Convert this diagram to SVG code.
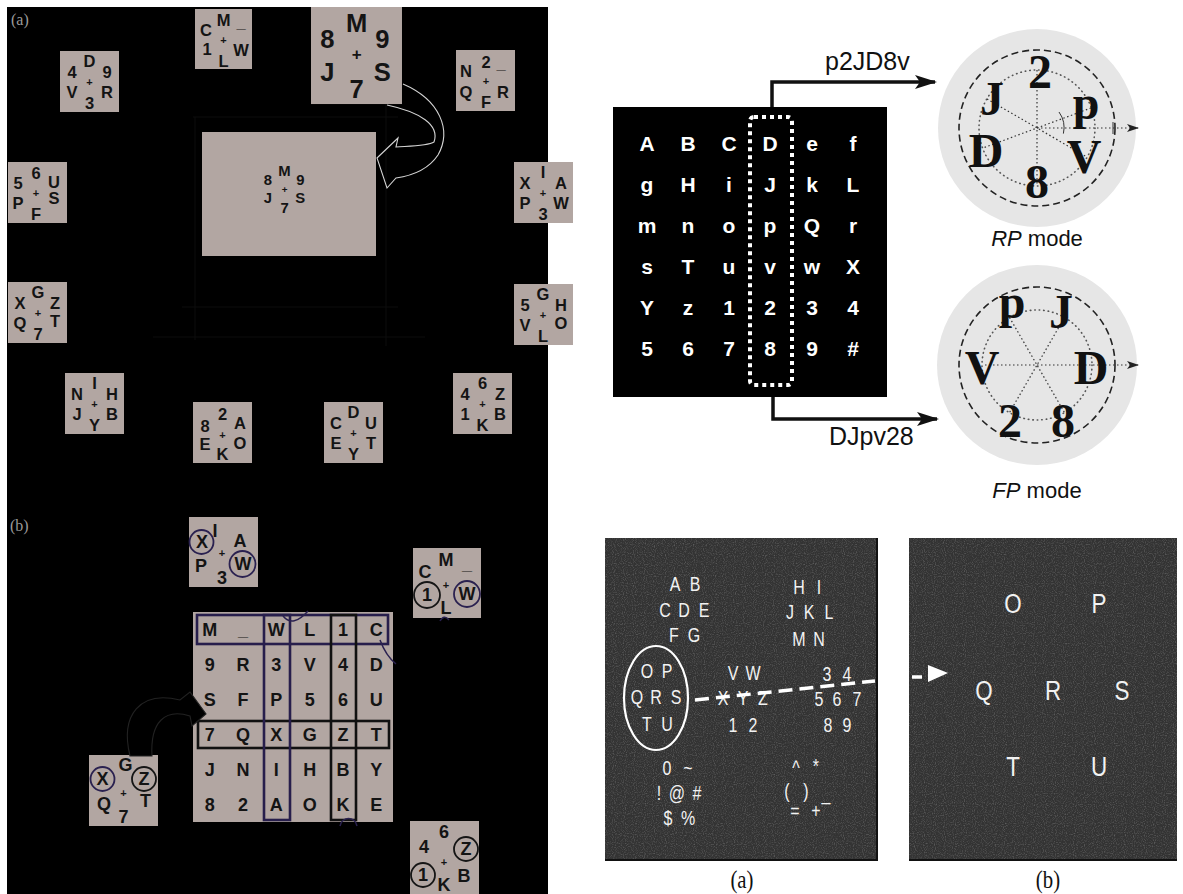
<svg xmlns="http://www.w3.org/2000/svg" width="1183" height="894" viewBox="0 0 1183 894">
<style>
.tile{fill:#b2a6a2}
.tc{font-family:'Liberation Sans',Arial,sans-serif;font-weight:bold;font-size:16.5px;fill:#141414;text-anchor:middle}
.p{font-size:11px}
.bc{font-family:'Liberation Sans',Arial,sans-serif;font-weight:bold;font-size:18px;fill:#141414;text-anchor:middle}
.ring{fill:none;stroke:#2a2150;stroke-width:1.8}
.ringk{fill:none;stroke:#151515;stroke-width:1.8}
.hl{fill:none;stroke:#271e4c;stroke-width:2.6}
.hlk{fill:none;stroke:#111;stroke-width:2.6}
.plab{font-family:'Liberation Serif',serif;font-size:16px;fill:#9a9a9a}
.wg{font-family:'Liberation Sans',Arial,sans-serif;font-weight:bold;font-size:21px;fill:#fff;text-anchor:middle}
.ser{font-family:'Liberation Serif','Times New Roman',serif;font-weight:bold;font-size:48px;fill:#111;text-anchor:middle}
.cap{font-family:'Liberation Sans',Arial,sans-serif;font-size:25px;fill:#111}
.mode{font-family:'Liberation Sans',Arial,sans-serif;font-size:22px;fill:#111;text-anchor:middle}
.nz{font-family:'Liberation Sans',Arial,sans-serif;font-size:20px;fill:#f2f2f2;text-anchor:middle}
.nzb{font-size:28px}
.sub{font-family:'Liberation Serif',serif;font-size:26px;fill:#111;text-anchor:middle}
.spoke{stroke:#333;stroke-width:1.2;stroke-dasharray:1.5 2.5;fill:none}
.dashc{fill:none;stroke:#222;stroke-width:1.6;stroke-dasharray:7 4}
.dotc{fill:none;stroke:#555;stroke-width:1.6;stroke-dasharray:0.5 4;stroke-linecap:round}
.faint{stroke:#0d0d0d;stroke-width:1;fill:none}
.dk{fill:none;stroke:#2a2150;stroke-width:1.5}
</style>
<defs>
<marker id="ah" viewBox="0 0 22 14" refX="20" refY="7" markerWidth="22" markerHeight="14" markerUnits="userSpaceOnUse" orient="auto"><path d="M0,0 L22,7 L0,14 L5,7 Z" fill="#111"/></marker>
<marker id="ahs" viewBox="0 0 12 8" refX="11" refY="4" markerWidth="12" markerHeight="8" markerUnits="userSpaceOnUse" orient="auto"><path d="M0,0 L12,4 L0,8 L3,4 Z" fill="#222"/></marker>
<filter id="grain" x="0" y="0" width="1" height="1">
<feTurbulence type="fractalNoise" baseFrequency="0.9" numOctaves="1" seed="4"/>
<feColorMatrix type="matrix" values="0 0 0 0 1  0 0 0 0 1  0 0 0 0 1  1.6 0 0 0 -0.75"/>
</filter>
</defs>

<!-- left black panel -->
<rect id="left-panel" x="7" y="7" width="541" height="887" fill="#000"/>
<g id="faint-frame">
<path class="faint" d="M193 117 H398 M386 104 V346 M195 117 V340 M182 307 H398 M153 337 H425"/>
</g>
<text class="plab" x="11" y="25">(a)</text>
<text class="plab" x="10" y="531">(b)</text>

<!-- (a) tiles -->
<g id="a-tile-CM" class="tc" transform="translate(195,9)"><rect class="tile" width="57" height="60"/><text x="28.5" y="17">M</text><text x="11" y="27">C</text><text x="46" y="19">_</text><text class="p" x="28.5" y="35">+</text><text x="12" y="46">1</text><text x="46" y="47">W</text><text x="28.5" y="58">L</text></g>
<g id="a-tile-4D9" class="tc" transform="translate(60,51)"><rect class="tile" width="59" height="61"/><text x="29.5" y="16">D</text><text x="12" y="27">4</text><text x="47" y="27">9</text><text class="p" x="29.5" y="35">+</text><text x="12" y="47">V</text><text x="47" y="47">R</text><text x="29.5" y="58">3</text></g>
<g id="a-tile-8M9" class="tc" transform="translate(311,7) scale(1.55)"><rect class="tile" width="58.7" height="62.6"/><text x="29.5" y="16">M</text><text x="10.5" y="26.5">8</text><text x="46" y="26.5">9</text><text class="p" x="29.5" y="34">+</text><text x="10.5" y="48">J</text><text x="46" y="48">S</text><text x="29.5" y="58.5">7</text></g>
<g id="a-tile-N2" class="tc" transform="translate(456,50)"><rect class="tile" width="59" height="61"/><text x="30" y="18">2</text><text x="10" y="27">N</text><text x="45" y="19">_</text><text class="p" x="30" y="35">+</text><text x="10" y="48">Q</text><text x="47" y="48">R</text><text x="30" y="58">F</text></g>
<g id="a-tile-56U" class="tc" transform="translate(8,162)"><rect class="tile" width="59" height="61"/><text x="28" y="17">6</text><text x="10" y="27">5</text><text x="46" y="26">U</text><text class="p" x="28" y="35">+</text><text x="10" y="47">P</text><text x="46" y="42">S</text><text x="28" y="58">F</text></g>
<g id="a-tile-XIA" class="tc" transform="translate(514,162)"><rect class="tile" width="59" height="61"/><text x="29" y="16">I</text><text x="11" y="27">X</text><text x="47" y="27">A</text><text class="p" x="29" y="35">+</text><text x="11" y="47">P</text><text x="47" y="47">W</text><text x="29" y="58">3</text></g>
<g id="a-tile-XGZ" class="tc" transform="translate(8,282)"><rect class="tile" width="59" height="61"/><text x="30" y="16">G</text><text x="12" y="27">X</text><text x="47" y="27">Z</text><text class="p" x="30" y="35">+</text><text x="12" y="47">Q</text><text x="47" y="45">T</text><text x="30" y="58">7</text></g>
<g id="a-tile-5GH" class="tc" transform="translate(514,284)"><rect class="tile" width="59" height="61"/><text x="29" y="16">G</text><text x="11" y="27">5</text><text x="47" y="27">H</text><text class="p" x="29" y="35">+</text><text x="11" y="47">V</text><text x="47" y="45">O</text><text x="29" y="58">L</text></g>
<g id="a-tile-NIH" class="tc" transform="translate(65,373)"><rect class="tile" width="59" height="61"/><text x="29.5" y="16">I</text><text x="12" y="27">N</text><text x="47" y="27">H</text><text class="p" x="29.5" y="35">+</text><text x="12" y="47">J</text><text x="47" y="47">B</text><text x="29.5" y="58">Y</text></g>
<g id="a-tile-46Z" class="tc" transform="translate(453,373)"><rect class="tile" width="59" height="61"/><text x="29.5" y="16">6</text><text x="12" y="27">4</text><text x="47" y="27">Z</text><text class="p" x="29.5" y="35">+</text><text x="12" y="47">1</text><text x="47" y="47">B</text><text x="29.5" y="58">K</text></g>
<g id="a-tile-82A" class="tc" transform="translate(193,402)"><rect class="tile" width="59" height="61"/><text x="29.5" y="18">2</text><text x="12" y="30">8</text><text x="47" y="27">A</text><text class="p" x="29.5" y="37">+</text><text x="12" y="48">E</text><text x="47" y="47">O</text><text x="29.5" y="58">K</text></g>
<g id="a-tile-CDU" class="tc" transform="translate(324,402)"><rect class="tile" width="59" height="61"/><text x="29.5" y="16">D</text><text x="12" y="27">C</text><text x="47" y="27">U</text><text class="p" x="29.5" y="35">+</text><text x="12" y="47">E</text><text x="47" y="47">T</text><text x="29.5" y="58">Y</text></g>
<g id="a-center">
<rect class="tile" x="202" y="132" width="174" height="124"/>
<g class="tc" transform="translate(258,162) scale(0.9)"><text x="29.5" y="16">M</text><text x="11" y="26">8</text><text x="47" y="26">9</text><text class="p" x="29.5" y="34">+</text><text x="11" y="46">J</text><text x="47" y="46">S</text><text x="29.5" y="57">7</text></g>
</g>

<!-- (b) grid -->
<g id="b-grid">
<rect class="tile" x="193" y="612" width="200" height="210"/>
<g class="bc">
<text x="209.7" y="636">M</text><text x="243" y="636">_</text><text x="276.3" y="636">W</text><text x="309.7" y="636">L</text><text x="343" y="636">1</text><text x="376.3" y="636">C</text>
<text x="209.7" y="671">9</text><text x="243" y="671">R</text><text x="276.3" y="671">3</text><text x="309.7" y="671">V</text><text x="343" y="671">4</text><text x="376.3" y="671">D</text>
<text x="209.7" y="706">S</text><text x="243" y="706">F</text><text x="276.3" y="706">P</text><text x="309.7" y="706">5</text><text x="343" y="706">6</text><text x="376.3" y="706">U</text>
<text x="209.7" y="741">7</text><text x="243" y="741">Q</text><text x="276.3" y="741">X</text><text x="309.7" y="741">G</text><text x="343" y="741">Z</text><text x="376.3" y="741">T</text>
<text x="209.7" y="776">J</text><text x="243" y="776">N</text><text x="276.3" y="776">I</text><text x="309.7" y="776">H</text><text x="343" y="776">B</text><text x="376.3" y="776">Y</text>
<text x="209.7" y="811">8</text><text x="243" y="811">2</text><text x="276.3" y="811">A</text><text x="309.7" y="811">O</text><text x="343" y="811">K</text><text x="376.3" y="811">E</text>
</g>
<rect class="hl" x="197" y="615" width="191" height="29"/>
<rect class="hlk" x="198" y="721" width="191" height="27"/>
<rect class="hl" x="264" y="615" width="26" height="205"/>
<rect class="hlk" x="331" y="615" width="25" height="205"/>
</g>

<!-- (b) tiles -->
<g id="b-tile-XIA" class="bc">
<rect class="tile" x="189" y="517" width="69" height="70"/>
<text x="215" y="537">I</text><text x="202" y="548">X</text><circle class="ring" cx="201.5" cy="542" r="12"/><text x="240" y="547">A</text><text class="p" x="222" y="557">+</text><text x="201" y="572">P</text><text x="243" y="570">W</text><circle class="ring" cx="242.5" cy="564" r="13"/><text x="222" y="584">3</text>
</g>
<g id="b-tile-CM" class="bc">
<rect class="tile" x="413" y="548" width="68" height="70"/>
<text x="446" y="566">M</text><text x="425" y="578">C</text><text x="467" y="570">_</text><text class="p" x="446" y="589">+</text><text x="427" y="601">1</text><circle class="ringk" cx="427" cy="595" r="13"/><text x="467" y="600">W</text><circle class="ring" cx="467" cy="594" r="13"/><text x="446" y="614">L</text>
</g>
<g id="b-tile-XGZ" class="bc">
<rect class="tile" x="89" y="755" width="69" height="71"/>
<text x="125.5" y="771">G</text><text x="102.5" y="785">X</text><circle class="ring" cx="102.5" cy="779" r="12"/><text x="144" y="785">Z</text><circle class="ringk" cx="144" cy="779" r="12"/><text class="p" x="123.5" y="797">+</text><text x="104" y="810">Q</text><text x="145.5" y="807">T</text><text x="123.5" y="823">7</text>
</g>
<g id="b-tile-46Z" class="bc">
<rect class="tile" x="410" y="821" width="69" height="73"/>
<text x="444" y="838">6</text><text x="424" y="853">4</text><text x="466" y="855">Z</text><circle class="ringk" cx="466" cy="849" r="12"/><text class="p" x="444" y="866">+</text><text x="423" y="881">1</text><circle class="ringk" cx="423" cy="875" r="12"/><text x="464" y="882">B</text><text x="444" y="891">K</text>
</g>

<!-- top right: character matrix -->
<g id="matrix">
<rect x="613" y="107" width="274" height="290" fill="#000"/>
<g class="wg">
<text x="647" y="151">A</text><text x="688" y="151">B</text><text x="729" y="151">C</text><text x="770" y="151">D</text><text x="812" y="151">e</text><text x="853" y="151">f</text>
<text x="647" y="192">g</text><text x="688" y="192">H</text><text x="729" y="192">i</text><text x="770" y="192">J</text><text x="812" y="192">k</text><text x="853" y="192">L</text>
<text x="647" y="233">m</text><text x="688" y="233">n</text><text x="729" y="233">o</text><text x="770" y="233">p</text><text x="812" y="233">Q</text><text x="853" y="233">r</text>
<text x="647" y="274">s</text><text x="688" y="274">T</text><text x="729" y="274">u</text><text x="770" y="274">v</text><text x="812" y="274">w</text><text x="853" y="274">X</text>
<text x="647" y="315">Y</text><text x="688" y="315">z</text><text x="729" y="315">1</text><text x="770" y="315">2</text><text x="812" y="315">3</text><text x="853" y="315">4</text>
<text x="647" y="356">5</text><text x="688" y="356">6</text><text x="729" y="356">7</text><text x="770" y="356">8</text><text x="812" y="356">9</text><text x="853" y="356">#</text>
</g>
<rect x="750" y="117" width="42" height="268" rx="4" fill="none" stroke="#fff" stroke-width="4" stroke-dasharray="4 4"/>
</g>

<!-- RP mode circle -->
<g id="rp-mode">
<circle cx="1037" cy="128" r="99" fill="#e6e6e6"/>
<circle class="dashc" cx="1037" cy="128" r="78"/>
<circle class="dotc" cx="1037" cy="128" r="58"/>
<path class="spoke" d="M1037 70 V186 M987 99 L1087 157 M1091 108 L983 148"/>
<path class="spoke" d="M1037 128 H1138" marker-end="url(#ahs)"/>
<path d="M1059 112 A27 27 0 0 1 1063.4 133.6" fill="none" stroke="#333" stroke-width="1"/>
<path d="M1113 122 V134" stroke="#333" stroke-width="1"/>
<g class="ser">
<text x="1040" y="88">2</text><text x="992" y="115">J</text><text x="1086" y="119">p</text><text x="986" y="167">D</text><text x="1084" y="173">V</text><text x="1037" y="198">8</text>
</g>
<text class="mode" x="1037" y="246"><tspan font-style="italic">RP</tspan> mode</text>
</g>

<!-- FP mode circle -->
<g id="fp-mode">
<circle cx="1037" cy="365" r="100" fill="#e6e6e6"/>
<circle class="dashc" cx="1037" cy="365" r="78"/>
<circle class="dotc" cx="1037" cy="365" r="55"/>
<path class="spoke" d="M1009.5 317.4 L1064.5 412.6 M1064.5 317.4 L1009.5 412.6"/>
<path class="spoke" d="M985 365 H1138" marker-end="url(#ahs)"/>
<g class="ser">
<text x="1012" y="318">p</text><text x="1061" y="328">J</text><text x="982" y="384">V</text><text x="1091" y="384">D</text><text x="1010" y="437">2</text><text x="1063" y="437">8</text>
</g>
<text class="mode" x="1037" y="498"><tspan font-style="italic">FP</tspan> mode</text>
</g>

<!-- bottom right noise panels -->
<g id="panel-a">
<rect x="605" y="538" width="272" height="322" fill="#333"/>
<rect x="605" y="538" width="272" height="322" filter="url(#grain)" opacity="0.35"/>
<path d="M605 860 H877 V538" fill="none" stroke="#111" stroke-width="2"/>
<ellipse cx="656" cy="698" rx="32" ry="52" fill="none" stroke="#fff" stroke-width="2.2"/>
<g class="nz" transform="scale(0.8,1)">
<text x="843.75" y="591">A</text><text x="868.75" y="591">B</text>
<text x="831.25" y="617">C</text><text x="855" y="617">D</text><text x="880" y="617">E</text>
<text x="842.5" y="642">F</text><text x="867.5" y="642">G</text>
<text x="808.75" y="678">O</text><text x="833.75" y="678">P</text>
<text x="796.25" y="704">Q</text><text x="820" y="704">R</text><text x="845" y="704">S</text>
<text x="808.75" y="731">T</text><text x="833.75" y="731">U</text>
<text x="998.75" y="594">H</text><text x="1023.75" y="594">I</text>
<text x="987.5" y="619">J</text><text x="1011.25" y="619">K</text><text x="1036.25" y="619">L</text>
<text x="998.75" y="646">M</text><text x="1023.75" y="646">N</text>
<text x="916.25" y="680">V</text><text x="941.25" y="680">W</text>
<text x="903.75" y="705">X</text><text x="928.75" y="705">Y</text><text x="953.75" y="705">Z</text>
<text x="916.25" y="732">1</text><text x="941.25" y="732">2</text>
<text x="1033.75" y="681">3</text><text x="1058.75" y="681">4</text>
<text x="1023.75" y="706">5</text><text x="1046.25" y="706">6</text><text x="1071.25" y="706">7</text>
<text x="1035" y="732">8</text><text x="1058.75" y="732">9</text>
<text x="833.75" y="775">0</text><text x="860" y="775">~</text>
<text x="823.75" y="800">!</text><text x="846.25" y="800">@</text><text x="871.25" y="800">#</text>
<text x="835" y="825">$</text><text x="860" y="825">%</text>
<text x="995" y="775">^</text><text x="1020" y="773">*</text>
<text x="983.75" y="798">(</text><text x="1007.5" y="798">)</text><text x="1032.5" y="800">_</text>
<text x="993.75" y="818">=</text><text x="1020" y="818">+</text>
</g>
</g>
<g id="panel-b">
<rect x="909" y="538" width="268" height="322" fill="#333"/>
<rect x="909" y="538" width="268" height="322" filter="url(#grain)" opacity="0.35"/>
<path d="M909 860 H1177" fill="none" stroke="#111" stroke-width="2"/>
<g class="nz nzb" transform="scale(0.8,1)">
<text x="1266.25" y="613">O</text><text x="1373.75" y="613">P</text>
<text x="1230" y="700">Q</text><text x="1316.25" y="700">R</text><text x="1402.5" y="700">S</text>
<text x="1266.25" y="776">T</text><text x="1373.75" y="776">U</text>
</g>
</g>
<g class="sub" transform="scale(0.8,1)">
<text x="927.5" y="888">(a)</text>
<text x="1310" y="888">(b)</text>
</g>

<!-- connectors -->
<g id="connectors">
<path d="M403 84 C440 100 452 130 438 155 C428 170 410 176 396 178 L387 188 L377 158 L398 138 L396 147 C412 146 428 146 434 142 C440 125 420 112 387 105" fill="none" stroke="#d4d4d4" stroke-width="1.1"/>
<path d="M130 756 C120 715 140 690 180 700 L190 692 L206 714 L192 726 L190 716 C165 708 150 722 152 756 Z" fill="#000" stroke="#222" stroke-width="1.1"/>
<path class="dk" d="M283 616 Q293 628 308 611"/>
<path class="dk" d="M380 640 Q386 656 396 664"/>
<path class="dk" d="M440 621 Q444 614 449 620"/>
<path class="dk" d="M340 826 C342 816 355 816 357 826"/>
<path d="M772 107 V82 H935" fill="none" stroke="#111" stroke-width="3.5" marker-end="url(#ah)"/>
<text class="cap" x="825" y="70">p2JD8v</text>
<path d="M773 397 V419 H937" fill="none" stroke="#111" stroke-width="3.5" marker-end="url(#ah)"/>
<text class="cap" x="829" y="445">DJpv28</text>
<path d="M695 700 L875 681" fill="none" stroke="#fff" stroke-width="3.5" stroke-dasharray="14 7"/>
<path d="M912 677 H922" stroke="#fff" stroke-width="3.5"/>
<path d="M928 665 L948 673 L928 682 Z" fill="#fff"/>
</g>
</svg>
